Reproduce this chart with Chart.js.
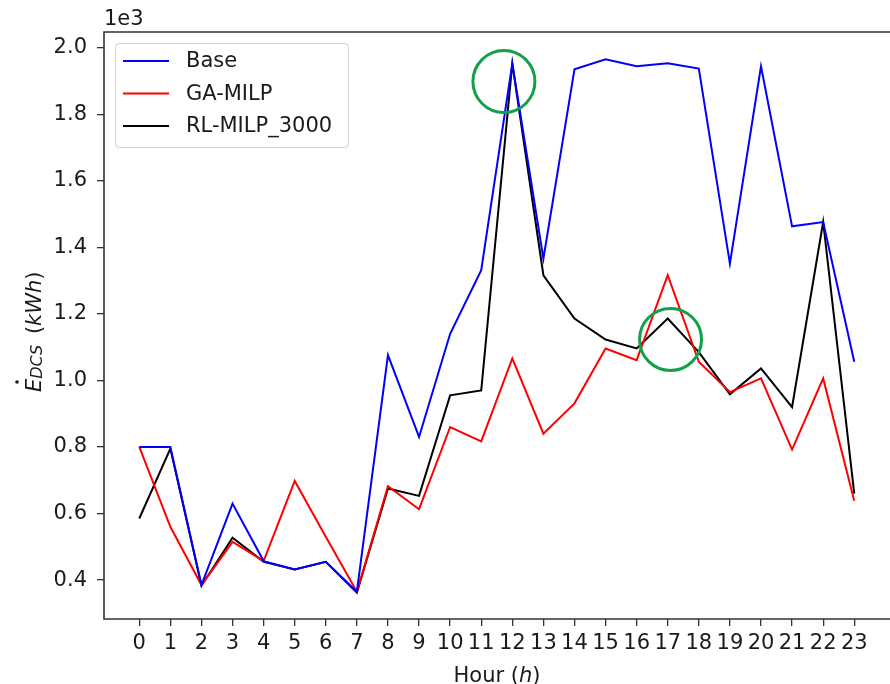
<!DOCTYPE html>
<html>
<head>
<meta charset="utf-8">
<script src="https://cdn.jsdelivr.net/npm/chart.js@4.4.1/dist/chart.umd.min.js"></script>
<style>
  html, body { margin: 0; padding: 0; background: #fff; }
  #wrap { width: 890px; height: 684px; }
</style>
</head>
<body>
<div id="wrap"><canvas id="chart-edcs" width="890" height="684"></canvas></div>
<script>
// Données (valeurs en 1e3 kWh)
const hours = [0,1,2,3,4,5,6,7,8,9,10,11,12,13,14,15,16,17,18,19,20,21,22,23];
const base = [0.80,0.80,0.385,0.630,0.457,0.432,0.455,0.365,1.076,0.830,1.140,1.331,1.952,1.366,1.935,1.965,1.944,1.953,1.937,1.351,1.944,1.463,1.476,1.056];
const gaMilp = [0.80,0.56,0.385,0.515,0.457,0.698,0.530,0.365,0.682,0.613,0.860,0.817,1.066,0.840,0.931,1.096,1.061,1.316,1.056,0.965,1.006,0.792,1.006,0.638];
const rlMilp = [0.585,0.795,0.383,0.527,0.455,0.432,0.455,0.362,0.675,0.653,0.955,0.970,1.952,1.316,1.186,1.123,1.096,1.186,1.085,0.958,1.036,0.920,1.476,0.660];
const yTicks = [0.4,0.6,0.8,1.0,1.2,1.4,1.6,1.8,2.0];
// cercles verts (heure, valeur)
const highlights = [{ x: 11.73, y: 1.898 }, { x: 17.09, y: 1.123 }];

const FONT = "'DejaVu Sans', sans-serif";
const AXIS = '#333333';
const TXT = '#1a1a1a';

function pts(arr) { return arr.map((v, i) => ({ x: hours[i], y: v })); }

// Cadre, légende, titres d'axes et cercles
const decorPlugin = {
  id: 'decor',
  afterDatasetsDraw(chart) {
    const ctx = chart.ctx;
    const a = chart.chartArea;
    const xs = chart.scales.x, ys = chart.scales.y;

    // cercles
    ctx.save();
    ctx.strokeStyle = '#14a04a';
    ctx.lineWidth = 3;
    highlights.forEach(h => {
      ctx.beginPath();
      ctx.arc(xs.getPixelForValue(h.x), ys.getPixelForValue(h.y), 31, 0, Math.PI * 2);
      ctx.stroke();
    });
    ctx.restore();

    // spines
    ctx.save();
    ctx.strokeStyle = AXIS;
    ctx.lineWidth = 1.6;
    ctx.beginPath();
    ctx.moveTo(a.right + 1, a.top);
    ctx.lineTo(a.left, a.top);
    ctx.lineTo(a.left, a.bottom);
    ctx.lineTo(a.right + 1, a.bottom);
    ctx.stroke();
    ctx.restore();

    // légende
    ctx.save();
    const lx = 115, ly = 43, lw = 233, lh = 104;
    ctx.fillStyle = 'rgba(255,255,255,0.85)';
    ctx.strokeStyle = '#d0d0d0';
    ctx.lineWidth = 1;
    ctx.beginPath();
    ctx.roundRect(lx + 0.5, ly + 0.5, lw, lh, 4);
    ctx.fill();
    ctx.stroke();
    ctx.font = '21px ' + FONT;
    ctx.textBaseline = 'middle';
    ctx.fillStyle = TXT;
    chart.data.datasets.forEach((ds, i) => {
      const yy = 61 + i * 32.5;
      ctx.strokeStyle = ds.borderColor;
      ctx.lineWidth = 2;
      ctx.beginPath();
      ctx.moveTo(123, yy);
      ctx.lineTo(169, yy);
      ctx.stroke();
      ctx.fillText(ds.label, 186, yy + 1);
    });
    ctx.restore();

    // multiplicateur
    ctx.save();
    ctx.font = '21px ' + FONT;
    ctx.fillStyle = TXT;
    ctx.textBaseline = 'alphabetic';
    ctx.fillText('1e3', 104, 25);
    ctx.restore();

    // titre axe x : Hour (h)
    ctx.save();
    ctx.fillStyle = TXT;
    ctx.textBaseline = 'alphabetic';
    const parts = [['Hour (', '21px ' + FONT], ['h', 'italic 21px ' + FONT], [')', '21px ' + FONT]];
    let total = 0;
    parts.forEach(p => { ctx.font = p[1]; total += ctx.measureText(p[0]).width; });
    let px = (a.left + a.right) / 2 - total / 2;
    parts.forEach(p => { ctx.font = p[1]; ctx.fillText(p[0], px, 682); px += ctx.measureText(p[0]).width; });
    ctx.restore();

    // titre axe y : Ė_DCS (kWh), écrit de bas en haut à partir de y=392
    ctx.save();
    ctx.translate(41, 392);
    ctx.rotate(-Math.PI / 2);
    ctx.fillStyle = TXT;
    ctx.textBaseline = 'alphabetic';
    const segs = [
      { t: 'E', f: 'italic 21px ' + FONT, dy: 0, dot: true },
      { t: 'DCS', f: 'italic 16px ' + FONT, dy: 1, gap: 4 },
      { t: ' (', f: '21px ' + FONT, dy: 0 },
      { t: 'kWh', f: 'italic 21px ' + FONT, dy: 0 },
      { t: ')', f: '21px ' + FONT, dy: 0 }
    ];
    let sx = 0;
    segs.forEach(s => {
      ctx.font = s.f;
      ctx.fillText(s.t, sx, s.dy);
      const sw = ctx.measureText(s.t).width;
      if (s.dot) {
        ctx.beginPath();
        ctx.arc(sx + 10, -24, 1.8, 0, Math.PI * 2);
        ctx.fill();
      }
      sx += sw + (s.gap || 0);
    });
    ctx.restore();
  }
};

function afficherGraphique() {
  const ctx = document.getElementById('chart-edcs').getContext('2d');
  window.chartEdcs = new Chart(ctx, {
    type: 'line',
    data: {
      datasets: [
        { label: 'Base', data: pts(base), borderColor: '#0000ff' },
        { label: 'GA-MILP', data: pts(gaMilp), borderColor: '#ff0000' },
        { label: 'RL-MILP_3000', data: pts(rlMilp), borderColor: '#000000' }
      ]
    },
    options: {
      responsive: false,
      animation: false,
      layout: { padding: { top: 32, left: 0, right: 0, bottom: 0 } },
      elements: {
        line: { borderWidth: 2, tension: 0, fill: false },
        point: { radius: 0, hoverRadius: 0 }
      },
      plugins: { legend: { display: false }, tooltip: { enabled: false } },
      scales: {
        x: {
          type: 'linear',
          min: -1.135,
          max: 24.15,
          afterBuildTicks: s => { s.ticks = hours.map(v => ({ value: v })); },
          afterFit: s => { s.height = 65; },
          border: { display: false },
          grid: { drawOnChartArea: false, drawTicks: true, tickLength: 7, color: AXIS, lineWidth: 1.3 },
          ticks: {
            autoSkip: false, maxRotation: 0, padding: 5, color: TXT,
            font: { family: FONT, size: 21 },
            callback: v => String(v)
          }
        },
        y: {
          min: 0.283,
          max: 2.047,
          afterBuildTicks: s => { s.ticks = yTicks.map(v => ({ value: v })); },
          afterFit: s => { s.width = 104; },
          border: { display: false },
          grid: { drawOnChartArea: false, drawTicks: true, tickLength: 7, color: AXIS, lineWidth: 1.3 },
          ticks: {
            padding: 10, color: TXT,
            font: { family: FONT, size: 21 },
            callback: v => Number(v).toFixed(1)
          }
        }
      }
    },
    plugins: [decorPlugin]
  });
}

afficherGraphique();
</script>
</body>
</html>
